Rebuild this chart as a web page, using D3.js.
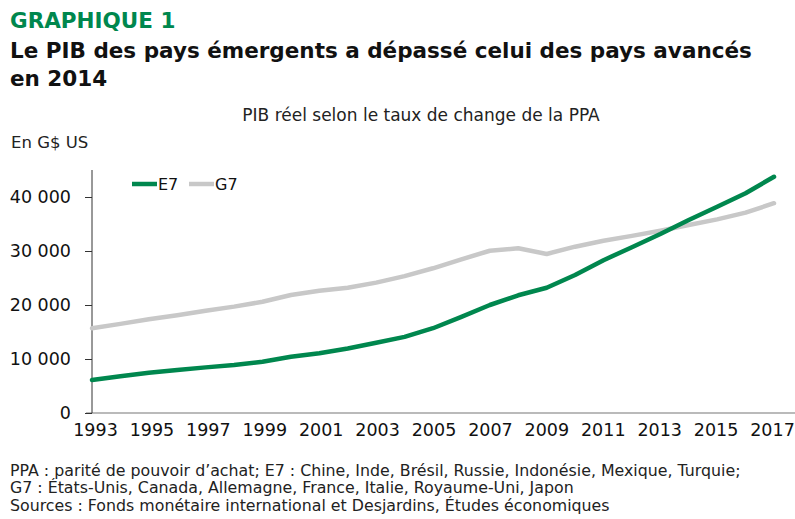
<!DOCTYPE html>
<html>
<head>
<meta charset="utf-8">
<script src="https://cdn.jsdelivr.net/npm/d3@7"></script>
<style>
  body { margin: 0; background: #fff; }
  svg { display: block; font-family: "DejaVu Sans", sans-serif; }
</style>
</head>
<body>
<svg id="chart" width="795" height="519"></svg>
<script>
// années
const years = d3.range(1993, 2018);

// PIB réel PPA, G$ US
const e7 = [6100, 6800, 7450, 7950, 8450, 8900, 9500, 10400, 11050, 11950, 13000,
            14100, 15700, 17800, 20000, 21800, 23200, 25550, 28300, 30700, 33150,
            35750, 38200, 40700, 43750];
const g7 = [15700, 16500, 17350, 18100, 18950, 19700, 20600, 21850, 22650, 23200, 24150,
            25350, 26800, 28450, 30050, 30500, 29450, 30800, 31900, 32800, 33750,
            34800, 35850, 37100, 38850];

const yTicks = [0, 10000, 20000, 30000, 40000];
const xTicks = d3.range(1993, 2018, 2);

const series = [
    { name: "E7", values: e7, color: "#00874e" },
    { name: "G7", values: g7, color: "#c8c8c8" }
];

const footnotes = [
    "PPA : parité de pouvoir d’achat; E7 : Chine, Inde, Brésil, Russie, Indonésie, Mexique, Turquie;",
    "G7 : États-Unis, Canada, Allemagne, France, Italie, Royaume-Uni, Japon",
    "Sources : Fonds monétaire international et Desjardins, Études économiques"
];

const svg = d3.select("#chart");

// titres
svg.append("text")
    .attr("x", 10).attr("y", 28)
    .attr("font-size", 21.5).attr("font-weight", "bold")
    .attr("fill", "#00874e")
    .text("GRAPHIQUE 1");

svg.append("text")
    .attr("x", 10).attr("y", 58)
    .attr("font-size", 21.5).attr("font-weight", "bold")
    .attr("fill", "#111")
    .text("Le PIB des pays émergents a dépassé celui des pays avancés");

svg.append("text")
    .attr("x", 10).attr("y", 86)
    .attr("font-size", 21.5).attr("font-weight", "bold")
    .attr("fill", "#111")
    .text("en 2014");

svg.append("text")
    .attr("x", 421).attr("y", 121)
    .attr("text-anchor", "middle")
    .attr("font-size", 17)
    .attr("fill", "#222")
    .text("PIB réel selon le taux de change de la PPA");

svg.append("text")
    .attr("x", 11).attr("y", 148)
    .attr("font-size", 16.5)
    .attr("fill", "#222")
    .text("En G$ US");

// échelles
const x = d3.scaleLinear().domain([1993, 2017]).range([92, 774]);
const y = d3.scaleLinear().domain([0, 40000]).range([413, 197]);

const fmt = d => d3.format(",")(d).replace(/,/g, " ");

// axe x (ligne de base)
svg.append("line")
    .attr("x1", 86).attr("x2", 795)
    .attr("y1", y(0)).attr("y2", y(0))
    .attr("stroke", "#777").attr("stroke-width", 1.2);

const xAxis = svg.append("g")
    .attr("transform", `translate(0, ${y(0)})`)
    .call(d3.axisBottom(x).tickValues(xTicks).tickFormat(d3.format("d")).tickSize(0).tickPadding(11));
xAxis.select(".domain").remove();
xAxis.selectAll("text")
    .attr("font-family", "DejaVu Sans, sans-serif")
    .attr("font-size", 17.5).attr("fill", "#111")
    .attr("dx", d => 3 - 5 * (d - 1993) / 24);

// axe y
const yAxis = svg.append("g")
    .attr("transform", "translate(92, 0)")
    .call(d3.axisLeft(y).tickValues(yTicks).tickFormat(fmt).tickSize(7).tickSizeOuter(0).tickPadding(14));
yAxis.select(".domain").attr("d", `M0,170V${y(0)}`).attr("stroke", "#333");
yAxis.selectAll(".tick line").attr("stroke", "#333");
yAxis.selectAll("text")
    .attr("font-family", "DejaVu Sans, sans-serif")
    .attr("font-size", 17.5).attr("fill", "#111");

// courbes
const line = d3.line()
    .x((d, i) => x(years[i]))
    .y(d => y(d));

// gris d'abord, vert par-dessus
[series[1], series[0]].forEach(s => {
    svg.append("path")
        .datum(s.values)
        .attr("d", line)
        .attr("fill", "none")
        .attr("stroke", s.color)
        .attr("stroke-width", 4.5)
        .attr("stroke-linejoin", "round")
        .attr("stroke-linecap", "round");
});

// légende
const legend = svg.append("g").attr("transform", "translate(132, 184)");
series.forEach((s, i) => {
    const g = legend.append("g").attr("transform", `translate(${i * 57}, 0)`);
    g.append("line")
        .attr("x1", 0).attr("x2", 25)
        .attr("stroke", s.color).attr("stroke-width", 4.5);
    g.append("text")
        .attr("x", 26).attr("y", 6)
        .attr("font-size", 16).attr("fill", "#111")
        .text(s.name);
});

// notes
svg.selectAll("text.note")
    .data(footnotes)
    .enter().append("text")
    .attr("class", "note")
    .attr("x", 10)
    .attr("y", (d, i) => 476 + i * 17.3)
    .attr("font-size", 15.8)
    .attr("fill", "#222")
    .text(d => d);
</script>
</body>
</html>
